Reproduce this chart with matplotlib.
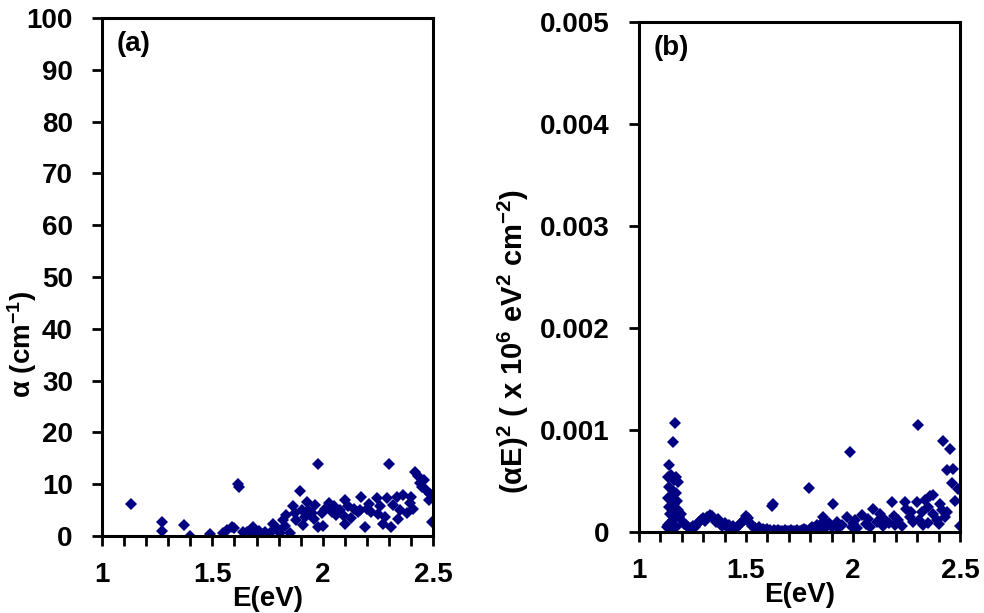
import matplotlib
matplotlib.use('Agg')
import matplotlib.pyplot as plt
from matplotlib.ticker import MultipleLocator, FuncFormatter

# panel (a): absorption coefficient vs photon energy
a_E = [1.13, 1.27, 1.27, 1.37, 1.40, 1.49, 1.55, 1.565, 1.59, 1.60,
       1.615, 1.62, 1.64, 1.655, 1.685, 1.69, 1.71, 1.72, 1.74, 1.76,
       1.775, 1.79, 1.80, 1.805, 1.82, 1.83, 1.835, 1.85, 1.865, 1.875,
       1.88, 1.895, 1.905, 1.91, 1.92, 1.93, 1.935, 1.95, 1.96, 1.965,
       1.98, 1.98, 1.995, 2.00, 2.01, 2.03, 2.04, 2.05, 2.06, 2.08,
       2.09, 2.10, 2.10, 2.115, 2.13, 2.14, 2.16, 2.17, 2.175, 2.19,
       2.20, 2.21, 2.22, 2.245, 2.25, 2.26, 2.275, 2.28, 2.29, 2.30,
       2.31, 2.32, 2.335, 2.34, 2.35, 2.365, 2.38, 2.395, 2.40, 2.41,
       2.42, 2.43, 2.44, 2.45, 2.46, 2.47, 2.48, 2.485, 2.495]
a_alpha = [6.1, 2.8, 1.0, 2.1, 0.0, 0.3, 0.5, 1.2, 1.8, 1.5,
           10.1, 9.5, 0.8, 0.8, 1.8, 0.5, 1.0, 0.4, 0.8, 0.5,
           2.4, 1.5, 1.2, 0.5, 3.1, 2.0, 4.0, 0.5, 5.7, 4.4,
           3.0, 8.6, 5.0, 2.2, 3.7, 6.6, 5.0, 4.4, 3.2, 6.0,
           13.9, 1.8, 4.4, 2.0, 5.3, 6.3, 4.7, 5.8, 4.0, 5.0,
           4.0, 6.9, 2.4, 5.7, 3.5, 5.3, 4.7, 5.0, 7.6, 1.8,
           5.3, 6.2, 4.7, 7.3, 4.3, 5.7, 2.4, 3.7, 7.3, 13.9,
           1.8, 6.0, 7.6, 3.2, 5.0, 7.9, 4.4, 6.3, 7.6, 5.3,
           12.4, 11.5, 10.2, 9.5, 10.8, 8.9, 6.9, 8.2, 2.8]

# panel (b): (alpha E)^2 in units of 1e6 eV^2 cm^-2
b_E = [1.170, 1.157, 1.139, 1.134, 1.150, 1.165, 1.173, 1.181, 1.142, 1.157,
       1.134, 1.150, 1.173, 1.142, 1.165, 1.181, 1.134, 1.157, 1.188, 1.204,
       1.220, 1.150, 1.173, 1.196, 1.129, 1.145, 1.160, 1.168, 1.178, 1.145,
       1.21, 1.23, 1.24, 1.25, 1.26, 1.27, 1.28, 1.29, 1.30, 1.31,
       1.32, 1.33, 1.34, 1.35, 1.36, 1.37, 1.38, 1.39, 1.40, 1.41,
       1.42, 1.43, 1.44, 1.45, 1.46, 1.47, 1.48, 1.49, 1.50, 1.51,
       1.52, 1.53, 1.54, 1.55, 1.56, 1.57, 1.58, 1.59, 1.60, 1.61,
       1.63, 1.64, 1.65, 1.66, 1.67, 1.68, 1.69, 1.70, 1.71, 1.72,
       1.73, 1.74, 1.75, 1.76, 1.77, 1.78, 1.80, 1.81, 1.82, 1.83,
       1.84, 1.85, 1.86, 1.87, 1.88, 1.89, 1.90,
       1.62, 1.625, 1.794, 1.986, 2.305, 2.419, 2.453, 2.438, 2.469, 2.461,
       2.492, 2.477, 2.50, 1.905, 1.861, 1.924, 1.97, 1.994, 2.04, 2.095,
       2.126, 2.15, 2.181, 2.196, 2.243, 2.25, 2.266, 2.297, 2.329, 2.336,
       2.36, 2.375, 2.407, 2.414, 2.43, 2.321, 2.375, 2.391,
       1.93, 1.95, 2.00, 2.02, 2.06, 2.08, 2.11, 2.14, 2.17, 2.21,
       2.23, 2.28, 2.31, 2.35, 2.40, 2.44, 2.01, 2.07, 2.19, 2.27, 2.35]
b_val = [0.00107, 0.00088, 0.00066, 0.00054, 0.00056, 0.00051, 0.00054, 0.00049, 0.00044, 0.00040,
         0.00033, 0.00035, 0.00038, 0.00025, 0.00027, 0.00022, 0.00007, 0.00012, 0.00015, 0.00010,
         0.00007, 0.00004, 0.00005, 0.00018, 0.00005, 0.00009, 0.00030, 0.00020, 0.00030, 0.00018,
         0.00008, 0.00005, 0.00004, 0.00006, 0.00005, 0.00008, 0.00010, 0.00012, 0.00014, 0.00011,
         0.00015, 0.00017, 0.00016, 0.00013, 0.00010, 0.00013, 0.00008, 0.00006, 0.00009, 0.00005,
         0.00007, 0.00004, 0.00006, 0.00003, 0.00005, 0.00008, 0.00010, 0.00012, 0.00016, 0.00014,
         0.00009, 0.00006, 0.00004, 0.00003, 0.00005, 0.00002, 0.00003, 0.00002, 0.00003, 0.00002,
         0.00002, 0.00001, 0.00002, 0.00001, 0.00001, 0.00002, 0.00001, 0.00001, 0.00002, 0.00001,
         0.00001, 0.00002, 0.00001, 0.00002, 0.00003, 0.00002, 0.00003, 0.00005, 0.00004, 0.00007,
         0.00005, 0.00008, 0.00004, 0.00010, 0.00006, 0.00009, 0.00005,
         0.000255, 0.00027, 0.00043, 0.00078, 0.00105, 0.00089, 0.00081, 0.00061, 0.00062, 0.00048,
         0.00042, 0.00030, 0.00006, 0.00027, 0.00015, 0.00010, 0.00015, 0.00005, 0.00017, 0.00023,
         0.00018, 0.00012, 0.00029, 0.00007, 0.00029, 0.00023, 0.00015, 0.00029, 0.00007, 0.00031,
         0.00035, 0.00036, 0.00027, 0.00022, 0.00015, 0.00020, 0.00018, 0.00012,
         0.00004, 0.00007, 0.00009, 0.00004, 0.00008, 0.00005, 0.00010, 0.00006, 0.00009, 0.00012,
         0.00006, 0.00010, 0.00012, 0.00009, 0.00008, 0.00020, 0.00012, 0.00013, 0.00016, 0.00020, 0.00025]

plt.rcParams['font.family'] = ['Liberation Sans', 'DejaVu Sans']
plt.rcParams['font.weight'] = 'bold'
plt.rcParams['mathtext.fontset'] = 'custom'
plt.rcParams['mathtext.rm'] = 'Liberation Sans:bold'
plt.rcParams['mathtext.bf'] = 'Liberation Sans:bold'
plt.rcParams['mathtext.default'] = 'bf'

NAVY = '#000080'
FS = 20

fig = plt.figure(figsize=(9.84, 6.13), dpi=100)
ax1 = fig.add_axes([0.1037, 0.1256, 0.3364, 0.845])
ax2 = fig.add_axes([0.6494, 0.1321, 0.3262, 0.832])

def style(ax):
    for s in ax.spines.values():
        s.set_linewidth(2.2)
    ax.set_xlim(1, 2.5)
    ax.xaxis.set_major_locator(MultipleLocator(0.5))
    ax.xaxis.set_minor_locator(MultipleLocator(0.1))
    ax.xaxis.set_major_formatter(FuncFormatter(lambda v, p: f'{v:g}'))
    ax.tick_params(axis='both', which='both', direction='out', width=2, length=7,
                   labelsize=FS, pad=14, top=False, right=False)
    ax.tick_params(axis='x', which='both', pad=12)
    for t in ax.get_xticklabels() + ax.get_yticklabels():
        t.set_fontweight('bold')
    ax.set_xlabel('E(eV)', fontsize=FS, fontweight='bold', labelpad=-2)

ax1.plot(a_E, a_alpha, 'D', color=NAVY, markersize=6.5, markeredgewidth=0)
style(ax1)
ax1.set_ylim(0, 100)
ax1.yaxis.set_major_locator(MultipleLocator(10))
ax1.set_ylabel('α (cm$^{-1}$)', fontsize=FS, fontweight='bold')
ax1.yaxis.set_label_coords(-0.19, 0.37)
ax1.text(0.045, 0.975, '(a)', transform=ax1.transAxes, fontsize=FS,
         fontweight='bold', va='top', ha='left')

ax2.plot(b_E, b_val, 'D', color=NAVY, markersize=6.5, markeredgewidth=0)
style(ax2)
ax2.set_ylim(0, 0.005)
ax2.yaxis.set_major_locator(MultipleLocator(0.001))
ax2.yaxis.set_major_formatter(FuncFormatter(lambda v, p: '0' if abs(v) < 1e-9 else f'{v:.3f}'))
ax2.set_ylabel('(αE)$^{2}$ ( x 10$^{6}$ eV$^{2}$ cm$^{-2}$)', fontsize=21, fontweight='bold')
ax2.yaxis.set_label_coords(-0.335, 0.373)
ax2.text(0.044, 0.975, '(b)', transform=ax2.transAxes, fontsize=FS,
         fontweight='bold', va='top', ha='left')

fig.savefig('out.png', dpi=100)
